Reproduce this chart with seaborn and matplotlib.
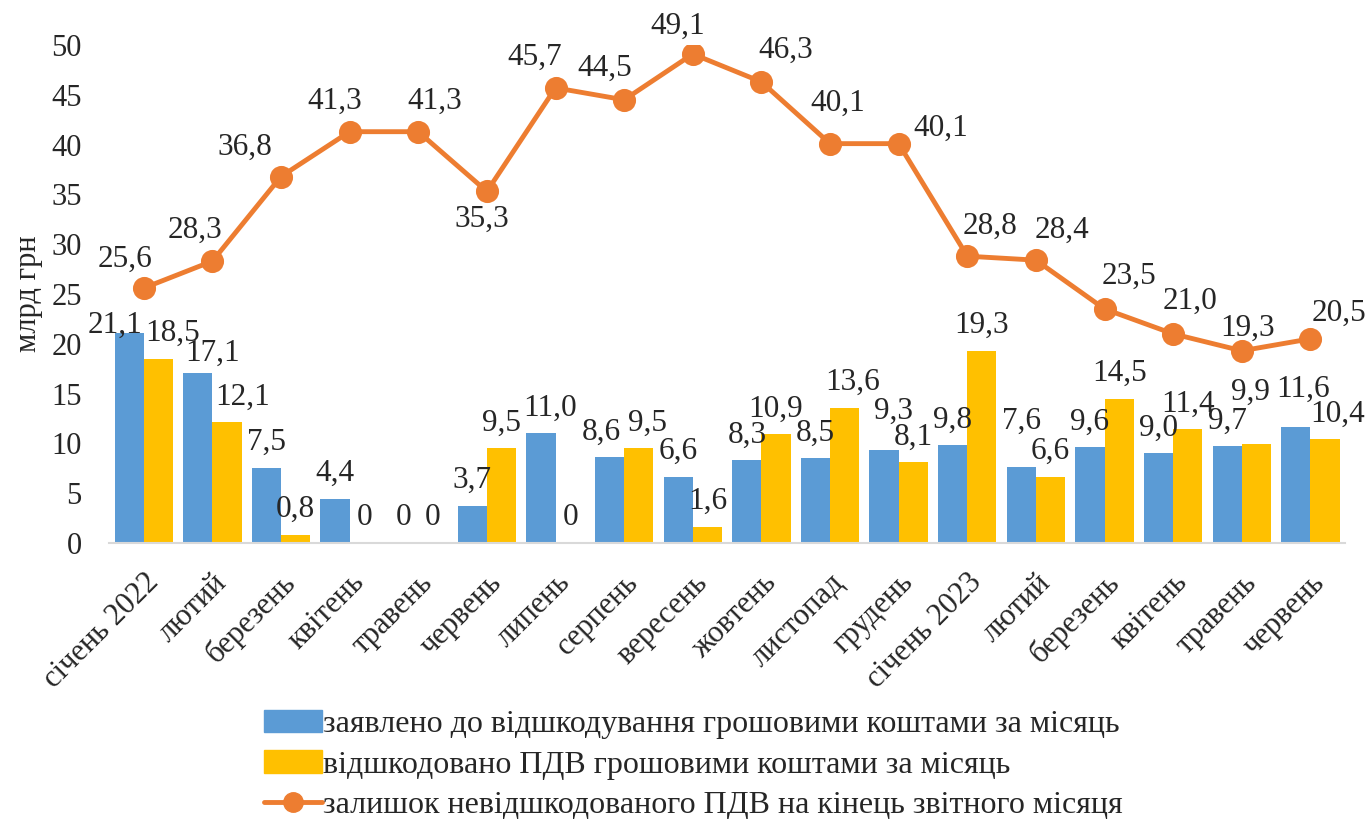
import pandas as pd
import numpy as np
import seaborn as sns
import matplotlib.pyplot as plt
from matplotlib.patches import Patch
from matplotlib.lines import Line2D

# дані з графіка
months = ["січень 2022", "лютий", "березень", "квітень", "травень", "червень",
          "липень", "серпень", "вересень", "жовтень", "листопад", "грудень",
          "січень 2023", "лютий", "березень", "квітень", "травень", "червень"]
declared = [21.1, 17.1, 7.5, 4.4, 0, 3.7, 11.0, 8.6, 6.6, 8.3, 8.5, 9.3,
            9.8, 7.6, 9.6, 9.0, 9.7, 11.6]
refunded = [18.5, 12.1, 0.8, 0, 0, 9.5, 0, 9.5, 1.6, 10.9, 13.6, 8.1,
            19.3, 6.6, 14.5, 11.4, 9.9, 10.4]
balance = [25.6, 28.3, 36.8, 41.3, 41.3, 35.3, 45.7, 44.5, 49.1, 46.3, 40.1, 40.1,
           28.8, 28.4, 23.5, 21.0, 19.3, 20.5]

lbl_declared = "заявлено до відшкодування грошовими коштами за місяць"
lbl_refunded = "відшкодовано ПДВ грошовими коштами за місяць"
lbl_balance = "залишок невідшкодованого ПДВ на кінець звітного місяця"

# зсуви підписів (пікселі), як розставлено вручну на оригіналі
dx_declared = [-14, 15, 0, 0, 0, 0, 9, -8, 0, 0, 0, 9, 0, 0, 0, 0, 0, 7]
dy_declared = [-18, -6, 0, 0, 0, 0, 0, 0, 0, 0, 0, 14, 0, 20, 0, 0, 0, 13]
dx_refunded = [14, 16, 0, 0, 0, 0, 0, 9, 0, 0, 8, 0, 0, 0, 0, 0, -6, 13]
dy_refunded = [0, 0, 0, 0, 0, 0, 0, 0, 0, 0, 0, 0, 0, 0, 0, 0, 27, 0]
line_offsets = [(-19, 29), (-17, 31), (-36, 29), (-15, 30), (16, 30), (-5, -28),
                (-21, 31), (-19, 31), (-15, 28), (24, 32), (8, 40), (42, 15),
                (23, 30), (26, 30), (24, 33), (17, 33), (6, 22), (29, 26)]

blue = "#5B9BD5"
yellow = "#FFC000"
orange = "#ED7D31"

sns.set_style("white")
plt.rcParams['font.family'] = ['Liberation Serif', 'DejaVu Serif']

idx = list(range(len(months)))
df = pd.DataFrame({
    'idx': idx * 2,
    'value': declared + refunded,
    'series': [lbl_declared] * len(idx) + [lbl_refunded] * len(idx),
})


def fmt(v):
    return "0" if v == 0 else f"{v:.1f}".replace('.', ',')


fig = plt.figure(figsize=(13.68, 8.19), dpi=100)
ax = fig.add_axes([0.080, 0.337, 0.903, 0.608])

sns.barplot(data=df, x='idx', y='value', hue='series', palette=[blue, yellow],
            width=0.85, saturation=1, errorbar=None, legend=False, linewidth=0, ax=ax)
sns.pointplot(x=idx, y=balance, color=orange, markers='o', errorbar=None,
              markersize=14, linewidth=3.5, ax=ax)

fs = 22.5

# підписи стовпців
for cont, vals, dxs, dys in zip(ax.containers[:2], [declared, refunded],
                                [dx_declared, dx_refunded], [dy_declared, dy_refunded]):
    for rect, v, dx, dy in zip(cont.patches, vals, dxs, dys):
        ax.annotate(fmt(v), (rect.get_x() + rect.get_width() / 2, rect.get_height()),
                    xytext=(dx, 18 + dy), textcoords='offset pixels',
                    ha='center', va='baseline', fontsize=fs)

# підписи лінії
for i, v in enumerate(balance):
    dx, dy = line_offsets[i]
    ax.annotate(fmt(v), (i, v), xytext=(dx, dy), textcoords='offset pixels',
                ha='center', va='center', fontsize=fs, clip_on=False)

ax.set_ylim(0, 50)
ax.set_xlim(-0.5, len(months) - 0.5)
ax.set_yticks(range(0, 51, 5))
ax.set_xticks(idx)
ax.set_xticklabels(months, rotation=45, ha='right', rotation_mode='anchor', fontsize=22)
ax.tick_params(axis='y', labelsize=22, length=0, pad=20)
ax.tick_params(axis='x', length=0, pad=18)
ax.set_xlabel("")
ax.set_ylabel("млрд грн", fontsize=22, labelpad=6)

for s in ['top', 'right', 'left']:
    ax.spines[s].set_visible(False)
ax.spines['bottom'].set_color('#d9d9d9')
ax.spines['bottom'].set_linewidth(1.5)

handles = [Patch(color=blue), Patch(color=yellow),
           Line2D([], [], color=orange, lw=3.5, marker='o', markersize=14)]
fig.legend(handles, [lbl_declared, lbl_refunded, lbl_balance], loc='center',
           bbox_to_anchor=(0.507, 0.066), frameon=False, fontsize=23,
           labelspacing=0.35, handlelength=1.8, handletextpad=0.05)

fig.savefig("out.png", dpi=100)
